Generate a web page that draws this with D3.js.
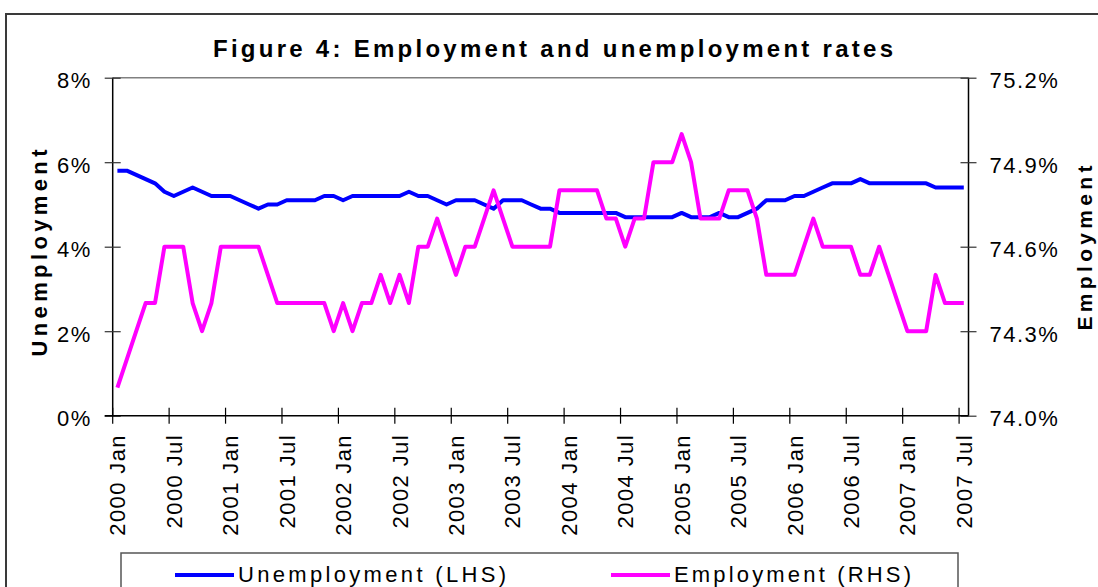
<!DOCTYPE html>
<html>
<head>
<meta charset="utf-8">
<script src="https://cdn.jsdelivr.net/npm/d3@7"></script>
<style>
  body { margin: 0; background: #fff; }
  svg { display: block; font-family: "Liberation Sans", Arial, sans-serif; }
</style>
</head>
<body>
<svg id="chart" width="1098" height="587"></svg>
<script>
// --- data (monthly, 2000 Jan .. 2007 Jul) ---
const MONTH_NAMES = ['Jan', 'Feb', 'Mar', 'Apr', 'May', 'Jun', 'Jul', 'Aug', 'Sep', 'Oct', 'Nov', 'Dec'];
const categories = d3.range(2000, 2008)
  .flatMap(y => MONTH_NAMES.map(m => `${y} ${m}`))
  .slice(0, 91);

// unemployment rate, % (left axis)
const unemployment = [
  5.8, 5.8, 5.7, 5.6, 5.5, 5.3, 5.2, 5.3, 5.4, 5.3, 5.2, 5.2,
  5.2, 5.1, 5.0, 4.9, 5.0, 5.0, 5.1, 5.1, 5.1, 5.1, 5.2, 5.2,
  5.1, 5.2, 5.2, 5.2, 5.2, 5.2, 5.2, 5.3, 5.2, 5.2, 5.1, 5.0,
  5.1, 5.1, 5.1, 5.0, 4.9, 5.1, 5.1, 5.1, 5.0, 4.9, 4.9, 4.8,
  4.8, 4.8, 4.8, 4.8, 4.8, 4.8, 4.7, 4.7, 4.7, 4.7, 4.7, 4.7,
  4.8, 4.7, 4.7, 4.7, 4.8, 4.7, 4.7, 4.8, 4.9, 5.1, 5.1, 5.1,
  5.2, 5.2, 5.3, 5.4, 5.5, 5.5, 5.5, 5.6, 5.5, 5.5, 5.5, 5.5,
  5.5, 5.5, 5.5, 5.4, 5.4, 5.4, 5.4
];

// employment rate, % (right axis)
const employment = [
  74.1, 74.2, 74.3, 74.4, 74.4, 74.6, 74.6, 74.6, 74.4, 74.3, 74.4, 74.6,
  74.6, 74.6, 74.6, 74.6, 74.5, 74.4, 74.4, 74.4, 74.4, 74.4, 74.4, 74.3,
  74.4, 74.3, 74.4, 74.4, 74.5, 74.4, 74.5, 74.4, 74.6, 74.6, 74.7, 74.6,
  74.5, 74.6, 74.6, 74.7, 74.8, 74.7, 74.6, 74.6, 74.6, 74.6, 74.6, 74.8,
  74.8, 74.8, 74.8, 74.8, 74.7, 74.7, 74.6, 74.7, 74.7, 74.9, 74.9, 74.9,
  75.0, 74.9, 74.7, 74.7, 74.7, 74.8, 74.8, 74.8, 74.7, 74.5, 74.5, 74.5,
  74.5, 74.6, 74.7, 74.6, 74.6, 74.6, 74.6, 74.5, 74.5, 74.6, 74.5, 74.4,
  74.3, 74.3, 74.3, 74.5, 74.4, 74.4, 74.4
];

const tickLabels = [
  '2000 Jan', '2000 Jul', '2001 Jan', '2001 Jul', '2002 Jan', '2002 Jul',
  '2003 Jan', '2003 Jul', '2004 Jan', '2004 Jul', '2005 Jan', '2005 Jul',
  '2006 Jan', '2006 Jul', '2007 Jan', '2007 Jul'
];
const leftTicks = [0, 2, 4, 6, 8];
const rightTicks = [74.0, 74.3, 74.6, 74.9, 75.2];

const seriesNames = ['Unemployment (LHS)', 'Employment (RHS)'];
const TITLE = 'Figure 4: Employment and unemployment rates';

// --- layout ---
const PLOT = { left: 112.7, right: 968.5, top: 77.7, bottom: 415.7 };
const TICK = 8;
const BLUE = '#0000ff';
const MAGENTA = '#ff00ff';
const FONT = '"Liberation Sans", Arial, sans-serif';

const svg = d3.select('#chart');

// outer chart border (runs off the right/bottom of the picture)
svg.append('rect')
  .attr('x', 6).attr('y', 14)
  .attr('width', 1200).attr('height', 700)
  .attr('fill', '#fff')
  .attr('stroke', '#3a3a3a')
  .attr('stroke-width', 2);

svg.append('text')
  .attr('x', 553).attr('y', 57)
  .attr('text-anchor', 'middle')
  .attr('font-size', 24)
  .attr('font-weight', 'bold')
  .attr('textLength', 680)
  .attr('lengthAdjust', 'spacing')
  .text(TITLE);

const x = d3.scaleBand().domain(categories).range([PLOT.left, PLOT.right]);
const yLeft = d3.scaleLinear().domain([0, 8]).range([PLOT.bottom, PLOT.top]);
const yRight = d3.scaleLinear().domain([74.0, 75.2]).range([PLOT.bottom, PLOT.top]);
const cx = i => x(categories[i]) + x.bandwidth() / 2;

// plot area top border
svg.append('line')
  .attr('x1', PLOT.left).attr('x2', PLOT.right)
  .attr('y1', PLOT.top).attr('y2', PLOT.top)
  .attr('stroke', '#808080').attr('stroke-width', 1.5);

// left axis
const leftAxis = svg.append('g')
  .attr('transform', `translate(${PLOT.left},0)`)
  .call(d3.axisLeft(yLeft).tickValues(leftTicks).tickSize(TICK).tickFormat(d => d + '%'));
leftAxis.select('.domain').attr('stroke', '#000').attr('stroke-width', 1.5)
  .attr('d', `M0,${PLOT.top}V${PLOT.bottom}`);
leftAxis.selectAll('.tick line').attr('x1', TICK).attr('stroke', '#333').attr('stroke-width', 1.2);
leftAxis.selectAll('.tick text')
  .attr('x', -21).attr('dy', '0.45em')
  .attr('font-size', 22).attr('letter-spacing', 1.5)
  .attr('font-family', FONT)
  .attr('fill', '#000');

// right axis
const rightAxis = svg.append('g')
  .attr('transform', `translate(${PLOT.right},0)`)
  .call(d3.axisRight(yRight).tickValues(rightTicks).tickSize(TICK).tickFormat(d => d.toFixed(1) + '%'));
rightAxis.select('.domain').attr('stroke', '#000').attr('stroke-width', 1.5)
  .attr('d', `M0,${PLOT.top}V${PLOT.bottom}`);
rightAxis.selectAll('.tick line').attr('x1', -TICK).attr('stroke', '#333').attr('stroke-width', 1.2);
rightAxis.selectAll('.tick text')
  .attr('x', 21).attr('dy', '0.45em')
  .attr('font-size', 22).attr('letter-spacing', 1.5)
  .attr('font-family', FONT)
  .attr('fill', '#000');

// bottom (category) axis: ticks between categories, labels centred on categories
const xAxis = svg.append('g');
xAxis.append('line')
  .attr('x1', PLOT.left - TICK).attr('x2', PLOT.right)
  .attr('y1', PLOT.bottom).attr('y2', PLOT.bottom)
  .attr('stroke', '#000').attr('stroke-width', 1.5);
const labelIdx = tickLabels.map(l => categories.indexOf(l));
xAxis.selectAll('line.tick')
  .data(labelIdx)
  .join('line')
  .attr('class', 'tick')
  .attr('x1', i => x(categories[i])).attr('x2', i => x(categories[i]))
  .attr('y1', PLOT.bottom - TICK).attr('y2', PLOT.bottom + TICK)
  .attr('stroke', '#000').attr('stroke-width', 1.2);
xAxis.selectAll('text')
  .data(labelIdx)
  .join('text')
  .attr('transform', i => `translate(${cx(i) + 8},434) rotate(-90)`)
  .attr('text-anchor', 'end')
  .attr('font-size', 22)
  .attr('letter-spacing', 1.4)
  .text(i => categories[i]);

// axis titles
svg.append('text')
  .attr('transform', 'translate(47,253) rotate(-90)')
  .attr('text-anchor', 'middle')
  .attr('font-size', 22).attr('font-weight', 'bold')
  .attr('textLength', 207).attr('lengthAdjust', 'spacing')
  .text('Unemployment');
// right title sits right at the edge, as in the reference
svg.append('text')
  .attr('transform', 'translate(1092,248) rotate(-90)')
  .attr('text-anchor', 'middle')
  .attr('font-size', 21).attr('font-weight', 'bold')
  .attr('textLength', 165).attr('lengthAdjust', 'spacing')
  .text('Employment');

// series
const lineLeft = d3.line().x((d, i) => cx(i)).y(d => yLeft(d));
const lineRight = d3.line().x((d, i) => cx(i)).y(d => yRight(d));
svg.append('path')
  .datum(unemployment)
  .attr('d', lineLeft)
  .attr('fill', 'none').attr('stroke', BLUE)
  .attr('stroke-width', 4).attr('stroke-linejoin', 'round');
svg.append('path')
  .datum(employment)
  .attr('d', lineRight)
  .attr('fill', 'none').attr('stroke', MAGENTA)
  .attr('stroke-width', 4).attr('stroke-linejoin', 'round');

// legend box (cut off by the bottom edge)
svg.append('rect')
  .attr('x', 121).attr('y', 553)
  .attr('width', 837).attr('height', 80)
  .attr('fill', '#fff')
  .attr('stroke', '#555').attr('stroke-width', 1.5);
const legendItems = [
  { name: seriesNames[0], color: BLUE, x0: 175, textLen: 268 },
  { name: seriesNames[1], color: MAGENTA, x0: 611, textLen: 237 }
];
const legend = svg.selectAll('g.legend')
  .data(legendItems)
  .join('g')
  .attr('class', 'legend')
  .attr('transform', d => `translate(${d.x0},575)`);
legend.append('line')
  .attr('x1', 0).attr('x2', 59)
  .attr('stroke', d => d.color).attr('stroke-width', 4);
legend.append('text')
  .attr('x', 63).attr('y', 7)
  .attr('font-size', 22)
  .attr('textLength', d => d.textLen).attr('lengthAdjust', 'spacing')
  .text(d => d.name);
</script>
</body>
</html>
